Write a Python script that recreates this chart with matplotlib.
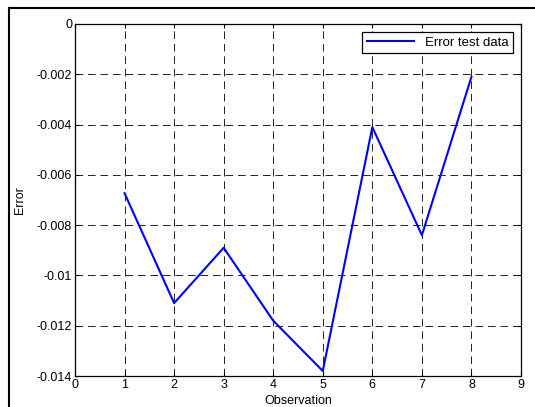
import matplotlib
matplotlib.use("Agg")
import matplotlib.pyplot as plt
from matplotlib.lines import Line2D

plt.rcParams['font.family'] = ['Liberation Sans', 'DejaVu Sans']
plt.rcParams['lines.scale_dashes'] = False

# values
observation = [1, 2, 3, 4, 5, 6, 7, 8]
error_test = [-0.00673, -0.0111, -0.0089, -0.0118, -0.0138, -0.0041, -0.0084, -0.0021]
x_ticks = [0, 1, 2, 3, 4, 5, 6, 7, 8, 9]
y_ticks = [0, -0.002, -0.004, -0.006, -0.008, -0.01, -0.012, -0.014]
y_labels = ['0', '-0.002', '-0.004', '-0.006', '-0.008', '-0.01', '-0.012', '-0.014']

fig = plt.figure(figsize=(5.35, 4.07), dpi=100)
ax = fig.add_axes([75 / 535, 1 - 376 / 407, 446 / 535, 352 / 407])

ax.plot(observation, error_test, color='#0000ff', linewidth=1.5, label='Error test data')

ax.set_xlim(0, 9)
ax.set_ylim(-0.014, 0)
ax.set_xticks(x_ticks)
ax.set_yticks(y_ticks)
ax.set_yticklabels(y_labels)
ax.tick_params(direction='in', top=True, right=True, labelsize=9, length=3, pad=2)
ax.grid(True, color='#222222', linestyle=(0, (5.5, 3.5)), linewidth=0.7)
for s in ax.spines.values():
    s.set_linewidth(0.9)

ax.set_xlabel('Observation', fontsize=9, labelpad=3)
ax.set_ylabel('Error', fontsize=9, labelpad=8)

leg = ax.legend(loc='upper right', fontsize=9.5, fancybox=False, framealpha=1,
                edgecolor='black', borderaxespad=0.6, handlelength=3.6,
                borderpad=0.35)
leg.get_frame().set_linewidth(0.9)

# outer frame around the figure (left and top visible)
fig.add_artist(Line2D([9 / 535, 9 / 535], [0, 1 - 8 / 407], color='black',
                      linewidth=1.5, transform=fig.transFigure))
fig.add_artist(Line2D([9 / 535, 1], [1 - 8 / 407, 1 - 8 / 407], color='black',
                      linewidth=1.5, transform=fig.transFigure))

fig.savefig('out.png', dpi=100)
